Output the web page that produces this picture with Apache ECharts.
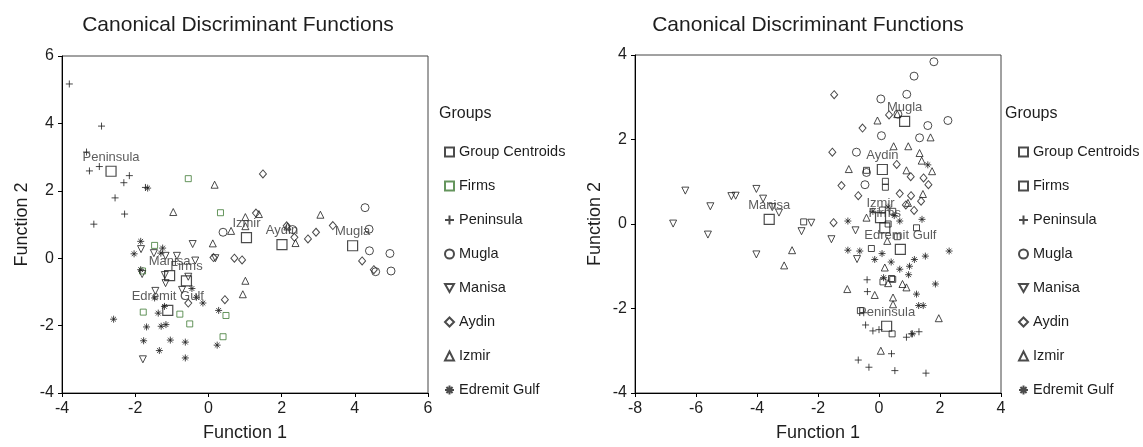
<!DOCTYPE html>
<html>
<head>
<meta charset="utf-8">
<script src="https://cdn.jsdelivr.net/npm/echarts@6/dist/echarts.min.js"></script>
<style>
  html, body { margin: 0; padding: 0; background: #fff; }
  #main { width: 1143px; height: 447px; }
</style>
</head>
<body>
<div id="main"></div>
<script>
// group names, in legend order
const groups = ['Firms', 'Peninsula', 'Mugla', 'Manisa', 'Aydin', 'Izmir', 'Edremit Gulf'];

// ---- left panel (function 1 / function 2 scores) ----
const leftFirms = [[-0.55,2.36],[0.33,1.35],[-1.47,0.38],[-1.8,-0.38],[-1.78,-1.6],[-0.78,-1.66],[-0.51,-1.95],[0.48,-1.7],[0.4,-2.33]];
const leftPeninsula = [[-3.8,5.17],[-2.92,3.92],[-3.33,3.15],[-3.25,2.59],[-2.98,2.72],[-2.31,2.24],[-2.16,2.45],[-2.55,1.79],[-2.29,1.31],[-3.13,1.01],[-1.72,2.1]];
const leftMugla = [[4.28,1.5],[4.39,0.86],[4.4,0.22],[4.96,0.14],[4.99,-0.38],[4.57,-0.4],[0.4,0.77],[2.3,0.85]];
const leftManisa = [[-1.84,0.27],[-1.49,0.15],[-1.17,0.07],[-0.86,0.07],[-0.43,0.42],[-0.36,-0.07],[0.19,0.0],[-1.81,-0.47],[-1.19,-0.5],[-1.17,-0.74],[-1.45,-0.97],[-0.72,-0.94],[-1.79,-3.0],[-0.55,-0.55]];
const leftAydin = [[1.49,2.5],[0.71,0.0],[0.92,-0.05],[0.14,0.02],[0.45,-1.23],[-0.55,-1.33],[2.72,0.57],[2.94,0.77],[3.4,0.97],[4.2,-0.08],[4.52,-0.34],[2.14,0.96],[2.35,0.62],[1.3,1.34]];
const leftIzmir = [[0.17,2.18],[-0.96,1.37],[0.12,0.44],[0.62,0.81],[1.01,1.22],[1.38,1.31],[3.06,1.29],[1.01,-0.67],[0.94,-1.07],[2.38,0.45],[2.16,0.94],[1.01,0.95]];
const leftEdremit = [[-2.59,-1.81],[-1.66,2.08],[-1.85,0.5],[-2.03,0.13],[-1.25,0.3],[-1.47,-1.18],[-1.2,-1.43],[-1.37,-1.63],[-1.69,-2.04],[-1.29,-2.02],[-1.16,-1.97],[-1.77,-2.45],[-1.04,-2.43],[-0.63,-2.49],[-1.34,-2.74],[-0.63,-2.96],[0.28,-1.55],[0.24,-2.58],[-0.15,-1.33],[-0.33,-1.16],[-1.85,-0.34],[-0.45,-0.9],[-1.3,0.15]];
const leftCentroids = [[-0.6,-0.67,'Firms'],[-2.66,2.58,'Peninsula'],[3.94,0.37,'Mugla'],[-1.06,-0.52,'Manisa'],[2.01,0.4,'Aydin'],[1.04,0.61,'Izmir'],[-1.11,-1.55,'Edremit Gulf']];

// ---- right panel ----
const rightFirms = [[0.11,0.33],[-0.25,-0.58],[1.23,-0.09],[0.45,-1.31],[0.45,0.3],[0.41,-1.29],[0.43,-2.6],[-0.61,-2.05],[0.13,-1.37],[0.21,1.01],[0.21,0.87],[-2.47,0.05],[-0.41,1.27],[0.3,0.0],[0.6,-0.3]];
const rightPeninsula = [[-0.39,-1.32],[-0.38,-1.6],[-0.44,-2.39],[-0.2,-2.53],[0.0,-2.5],[0.9,-2.68],[1.06,-2.6],[1.31,-2.55],[0.41,-3.07],[-0.68,-3.22],[-0.33,-3.39],[0.52,-3.47],[1.54,-3.53],[-0.5,-2.1]];
const rightMugla = [[1.8,3.84],[1.15,3.5],[0.91,3.07],[0.06,2.96],[2.26,2.45],[1.6,2.33],[1.33,2.04],[0.08,2.09],[-0.74,1.7],[-0.46,0.93],[-0.41,1.22],[0.62,2.6]];
const rightManisa = [[-6.75,0.01],[-6.35,0.79],[-5.53,0.42],[-5.61,-0.25],[-4.84,0.66],[-4.7,0.67],[-4.02,0.83],[-4.02,-0.72],[-3.8,0.6],[-3.28,0.27],[-2.22,0.03],[-2.54,-0.17],[-1.56,-0.36],[-0.77,-0.15],[-0.72,-0.83],[-3.5,0.4]];
const rightAydin = [[-1.47,3.06],[-0.54,2.27],[-1.53,1.7],[-1.23,0.91],[-0.68,0.67],[-1.49,0.03],[0.68,0.72],[1.05,0.67],[1.38,0.54],[1.15,0.32],[1.04,1.12],[1.46,1.09],[1.62,0.93],[0.33,2.58],[0.58,1.41],[0.88,0.45]];
const rightIzmir = [[-0.05,2.45],[0.48,1.84],[0.96,1.84],[1.69,2.05],[1.33,1.68],[-0.99,1.3],[0.9,1.27],[1.74,1.25],[1.44,0.71],[0.95,0.5],[-0.41,0.15],[-2.85,-0.62],[-3.11,-0.98],[-1.04,-1.54],[-0.14,-1.68],[0.19,-1.03],[0.46,-1.74],[0.46,-1.9],[0.77,-1.42],[1.96,-2.23],[0.06,-3.0],[0.27,-0.4],[0.6,2.6],[1.4,1.5],[0.3,-1.4],[0.9,-1.5]];
const rightEdremit = [[-1.02,0.07],[-1.02,-0.62],[-0.63,-0.64],[-0.14,-0.84],[0.68,0.07],[1.41,0.11],[1.52,-0.76],[2.3,-0.64],[1.85,-1.42],[1.16,-0.84],[1.0,-1.0],[0.97,-1.2],[0.68,-1.07],[1.23,-1.66],[1.3,-1.93],[1.45,-1.93],[0.15,-1.27],[0.1,-0.7],[0.4,-0.9],[-0.2,0.3],[0.3,0.4],[1.6,1.4],[0.5,0.2],[1.1,-2.6]];
const rightCentroids = [[0.19,-0.09,'Firms'],[0.25,-2.42,'Peninsula'],[0.84,2.43,'Mugla'],[-3.6,0.11,'Manisa'],[0.11,1.29,'Aydin'],[0.05,0.15,'Izmir'],[0.7,-0.6,'Edremit Gulf']];

// tick values
const leftXTicks = [-4, 6, 2];
const leftYTicks = [-4, 6, 2];
const rightXTicks = [-8, 4, 2];
const rightYTicks = [-4, 4, 2];

const FONT = '"Liberation Sans", Arial, sans-serif';
const INK = '#1e1e1e';

// symbol for each group
const marks = {
  'Group Centroids': { symbol: 'rect', size: 10 },
  'Firms': { symbol: 'rect', size: 6 },
  'Peninsula': { symbol: 'path://M0,5L10,5M5,0L5,10', size: 7 },
  'Mugla': { symbol: 'circle', size: 8 },
  'Manisa': { symbol: 'path://M0,0L10,0L5,9Z', size: 7 },
  'Aydin': { symbol: 'diamond', size: [7, 8] },
  'Izmir': { symbol: 'triangle', size: 7 },
  'Edremit Gulf': { symbol: 'path://M0,5L10,5M5,0L5,10M1.6,1.6L8.4,8.4M8.4,1.6L1.6,8.4', size: 7 }
};

function pointSeries(name, data, idx, stroke) {
  return {
    name: name,
    type: 'scatter',
    xAxisIndex: idx,
    yAxisIndex: idx,
    data: data,
    symbol: marks[name].symbol,
    symbolSize: marks[name].size,
    itemStyle: { color: 'rgba(0,0,0,0)', borderColor: stroke || INK, borderWidth: 1 },
    emphasis: { disabled: true },
    z: 2
  };
}

function centroidSeries(data, idx) {
  return {
    name: 'Group Centroids',
    type: 'scatter',
    xAxisIndex: idx,
    yAxisIndex: idx,
    data: data,
    symbol: marks['Group Centroids'].symbol,
    symbolSize: marks['Group Centroids'].size,
    itemStyle: { color: 'rgba(0,0,0,0)', borderColor: INK, borderWidth: 1.2 },
    label: {
      show: true, position: 'top', distance: 2,
      formatter: p => p.data[2],
      fontFamily: FONT, fontSize: 13, color: '#333'
    },
    emphasis: { disabled: true },
    z: 3
  };
}

const series = [
  pointSeries('Firms', leftFirms, 0, '#3f7a34'),
  pointSeries('Peninsula', leftPeninsula, 0),
  pointSeries('Mugla', leftMugla, 0),
  pointSeries('Manisa', leftManisa, 0),
  pointSeries('Aydin', leftAydin, 0),
  pointSeries('Izmir', leftIzmir, 0),
  pointSeries('Edremit Gulf', leftEdremit, 0),
  centroidSeries(leftCentroids, 0),
  pointSeries('Firms', rightFirms, 1),
  pointSeries('Peninsula', rightPeninsula, 1),
  pointSeries('Mugla', rightMugla, 1),
  pointSeries('Manisa', rightManisa, 1),
  pointSeries('Aydin', rightAydin, 1),
  pointSeries('Izmir', rightIzmir, 1),
  pointSeries('Edremit Gulf', rightEdremit, 1),
  centroidSeries(rightCentroids, 1)
];

function valueAxis(idx, ticks, type) {
  const isX = type === 'x';
  return {
    type: 'value',
    gridIndex: idx,
    min: ticks[0], max: ticks[1], interval: ticks[2],
    name: isX ? 'Function 1' : 'Function 2',
    nameLocation: 'middle',
    nameGap: isX ? 31 : 31,
    nameTextStyle: { fontFamily: FONT, fontSize: 18, color: INK },
    axisLine: { show: true, onZero: false, lineStyle: { color: '#000', width: 1 } },
    axisTick: { show: true, inside: false, length: 4, lineStyle: { color: '#000' } },
    axisLabel: { fontFamily: FONT, fontSize: 16, color: INK, margin: 8 },
    splitLine: { show: false }
  };
}

function legendFor(left) {
  return {
    orient: 'vertical',
    left: left,
    top: 144,
    padding: 0,
    itemWidth: 9,
    itemHeight: 9,
    itemGap: 18,
    selectedMode: false,
    data: ['Group Centroids'].concat(groups).map(n => n === 'Firms'
      ? { name: n, itemStyle: { borderColor: left < 600 ? '#3f7a34' : INK } }
      : { name: n }),
    textStyle: { fontFamily: FONT, fontSize: 14.5, color: INK, lineHeight: 16 }
  };
}

const chart = echarts.init(document.getElementById('main'));
chart.setOption({
  animation: false,
  backgroundColor: '#fff',
  grid: [
    { left: 62, top: 56, width: 366, height: 337, show: true, borderColor: '#444', borderWidth: 1 },
    { left: 635, top: 55, width: 366, height: 339, show: true, borderColor: '#444', borderWidth: 1 }
  ],
  xAxis: [valueAxis(0, leftXTicks, 'x'), valueAxis(1, rightXTicks, 'x')],
  yAxis: [valueAxis(0, leftYTicks, 'y'), valueAxis(1, rightYTicks, 'y')],
  legend: [legendFor(444), legendFor(1018)],
  graphic: [
    { type: 'text', x: 238, y: 25, style: { text: 'Canonical Discriminant Functions', align: 'center', verticalAlign: 'middle', fontFamily: FONT, fontSize: 21, fill: INK } },
    { type: 'text', x: 808, y: 25, style: { text: 'Canonical Discriminant Functions', align: 'center', verticalAlign: 'middle', fontFamily: FONT, fontSize: 21, fill: INK } },
    { type: 'text', x: 439, y: 114, style: { text: 'Groups', align: 'left', verticalAlign: 'middle', fontFamily: FONT, fontSize: 16, fill: INK } },
    { type: 'text', x: 1005, y: 114, style: { text: 'Groups', align: 'left', verticalAlign: 'middle', fontFamily: FONT, fontSize: 16, fill: INK } }
  ],
  series: series
});
</script>
</body>
</html>
